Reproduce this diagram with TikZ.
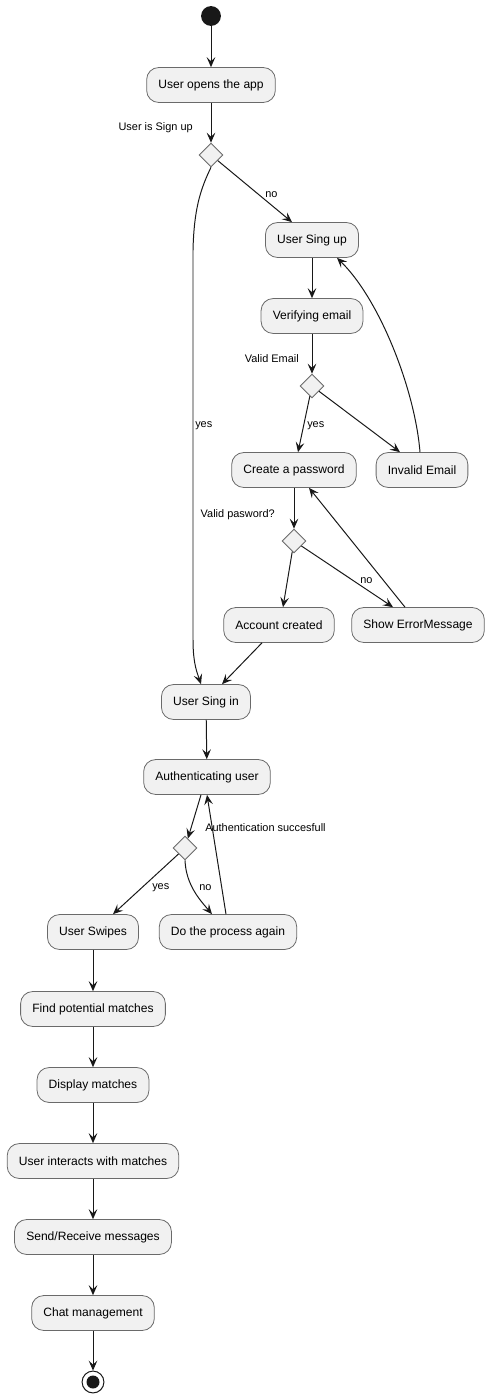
\documentclass[tikz,border=0pt]{standalone}
\usepackage{fontspec}
\setmainfont{Liberation Sans}
\usetikzlibrary{arrows.meta,shapes.geometric,calc}
\definecolor{actfill}{HTML}{F1F1F1}
\definecolor{actline}{HTML}{6A6A6A}
\definecolor{flowline}{HTML}{181818}
\tikzset{
  act/.style={draw=actline,fill=actfill,line width=0.6pt,rounded corners=9pt,
    minimum height=26.3pt,inner xsep=8.8pt,font=\fontsize{9.1}{9.1}\selectfont},
  choice/.style={diamond,draw=actline,fill=actfill,line width=0.6pt,
    minimum width=18pt,minimum height=18pt,inner sep=0pt},
  flow/.style={draw=flowline,line width=0.75pt,
    -{Stealth[length=7.5pt,width=6.5pt,inset=3pt]}},
  guard/.style={font=\fontsize{8.25}{8.25}\selectfont,inner sep=0pt}
}

\begin{document}
\begin{tikzpicture}[x=0.0265cm,y=-0.0265cm]
  \useasboundingbox (0,0) rectangle (489,1398);
  % start and stop
  \node[circle,fill=flowline,minimum size=15pt,inner sep=0pt] (start) at (211,16) {};
  \node[circle,draw=flowline,line width=0.75pt,minimum size=16.5pt,inner sep=0pt] (stop) at (93,1382) {};
  \fill[flowline] (stop) circle (6.5);
  % activities
  \node[act] (open)    at (211,85)  {User opens the app};
  \node[act] (signup)  at (312,240) {User Sing up};
  \node[act] (verify)  at (312,316) {Verifying email};
  \node[act] (passwd)  at (294,470) {Create a password};
  \node[act] (invalid) at (422,470) {Invalid Email};
  \node[act] (created) at (279,625) {Account created};
  \node[act] (errmsg)  at (418,625) {Show ErrorMessage};
  \node[act] (signin)  at (206,702) {User Sing in};
  \node[act] (auth)    at (207,777) {Authenticating user};
  \node[act] (swipes)  at (93,932)  {User Swipes};
  \node[act] (again)   at (228,932) {Do the process again};
  \node[act] (find)    at (93,1009) {Find potential matches};
  \node[act] (show)    at (93,1085) {Display matches};
  \node[act] (interact) at (93,1161) {User interacts with matches};
  \node[act] (msgs)    at (93,1237) {Send/Receive messages};
  \node[act] (chat)    at (93,1313) {Chat management};
  % decisions
  \node[choice] (d1) at (211,155) {};
  \node[choice] (d2) at (312,386) {};
  \node[choice] (d3) at (294,541) {};
  \node[choice] (d4) at (185,848) {};
  % flows
  \draw[flow] (start) -- (open);
  \draw[flow] (open) -- (d1);
  \draw[flow] (d1) -- ($(signup.north)+(-20,0)$);
  \draw[flow] (d1.south) .. controls (200,190) and (194,210) .. (193,250)
    -- (193,640) .. controls (193,665) and (198,675) .. ($(signin.north)+(-5,0)$);
  \draw[flow] (signup) -- (verify);
  \draw[flow] (verify) -- (d2);
  \draw[flow] (d2) -- ($(passwd.north)+(4,0)$);
  \draw[flow] (d2) -- ($(invalid.north)+(-22,0)$);
  \draw[flow] ($(invalid.north)+(-2,0)$) .. controls (415,390) and (380,300) .. ($(signup.south)+(25,0)$);
  \draw[flow] (passwd) -- (d3);
  \draw[flow] (d3) -- ($(created.north)+(4,0)$);
  \draw[flow] (d3) -- ($(errmsg.north)+(-25,0)$);
  \draw[flow] ($(errmsg.north)+(-13,0)$) -- ($(passwd.south)+(15,0)$);
  \draw[flow] ($(created.south)+(-17,0)$) -- ($(signin.north)+(16,0)$);
  \draw[flow] (signin) -- (auth);
  \draw[flow] ($(auth.south)+(-6,0)$) -- (d4);
  \draw[flow] (d4) -- ($(swipes.north)+(20,0)$);
  \draw[flow] (d4.south) .. controls (186,885) and (200,900) .. ($(again.north)+(-16,0)$);
  \draw[flow] ($(again.north)+(-2,0)$) -- (auth.south);
  \draw[flow] (swipes) -- (find);
  \draw[flow] (find) -- (show);
  \draw[flow] (show) -- (interact);
  \draw[flow] (interact) -- (msgs);
  \draw[flow] (msgs) -- (chat);
  \draw[flow] (chat) -- (stop);
  % guards
  \node[guard,anchor=east] (g1)    at (193,128) {User is Sign up};
  \node[guard,anchor=west] (g1no)  at (265,195) {no};
  \node[guard,anchor=west] (g1yes) at (195,426) {yes};
  \node[guard,anchor=east] (g2)    at (299,359) {Valid Email};
  \node[guard,anchor=west] (g2yes) at (307,426) {yes};
  \node[guard,anchor=east] (g3)    at (275,515) {Valid pasword?};
  \node[guard,anchor=west] (g3no)  at (360,581) {no};
  \node[guard,anchor=west] (g4)    at (205,828) {Authentication succesfull};
  \node[guard,anchor=west] (g4yes) at (152,888) {yes};
  \node[guard,anchor=west] (g4no)  at (199,888) {no};
\end{tikzpicture}
\end{document}
